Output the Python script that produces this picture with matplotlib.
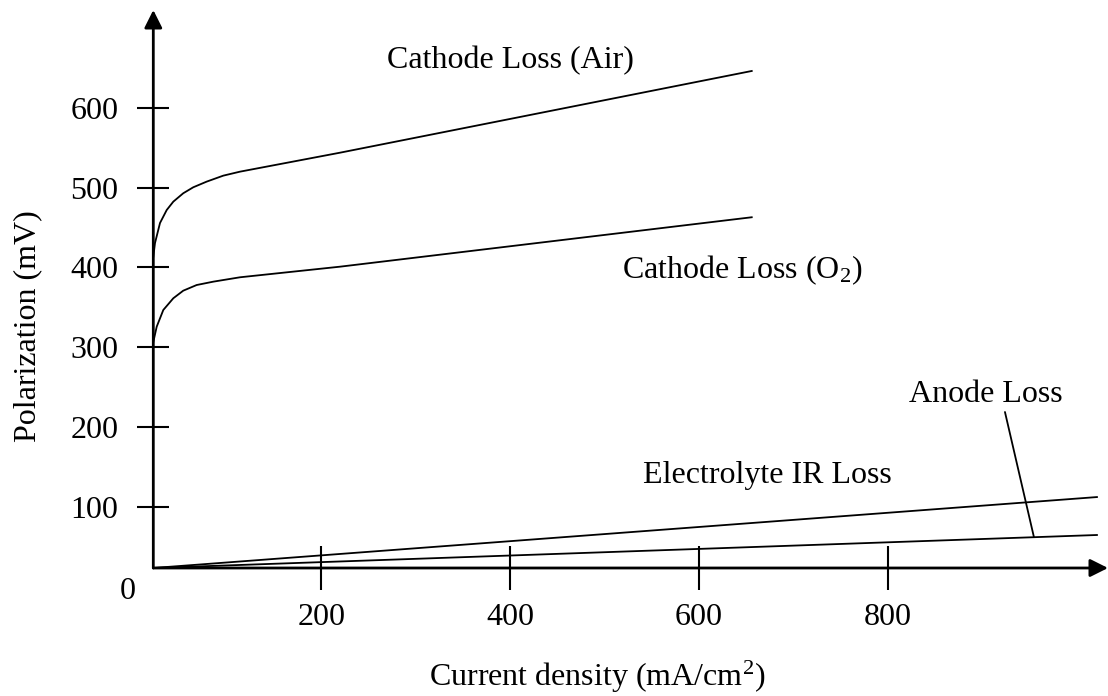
import matplotlib
matplotlib.use("Agg")
import matplotlib.pyplot as plt
import numpy as np

# values (x in mA/cm2, y in mV)
air_x = [22.2, 24.0, 29.3, 36.4, 43.4, 53.9, 64.5, 78.7, 96.3, 114.0, 219.9, 655.8]
air_y = [413.5, 430.7, 455.8, 472.1, 482.6, 493.1, 500.6, 507.7, 515.2, 520.2, 544.0, 646.5]

o2_x = [22.2, 25.8, 32.8, 43.4, 53.9, 68.1, 85.7, 114.0, 219.9, 655.8]
o2_y = [306.5, 325.7, 346.7, 361.4, 370.9, 378.0, 382.2, 387.7, 401.0, 463.0]

ir_x = [22.2, 1021.3]
ir_y = [23.0, 112.0]

anode_x = [22.2, 1021.3]
anode_y = [23.0, 64.4]

x_ticks = [200, 400, 600, 800]
y_ticks = [100, 200, 300, 400, 500, 600]

plt.rcParams['font.family'] = ['Liberation Serif', 'DejaVu Serif']
plt.rcParams['mathtext.fontset'] = 'custom'
plt.rcParams['mathtext.rm'] = 'Liberation Serif'
plt.rcParams['mathtext.it'] = 'Liberation Serif:italic'

FS = 23
W, H = 1108, 696
fig = plt.figure(figsize=(W / 100, H / 100), dpi=100)

# axes frame in pixels: origin (153.3, 568), top 10, right 1108
left, right, bottom, top = 153.3, 1108, 568, 10
ax = fig.add_axes([left / W, 1 - bottom / H, (right - left) / W, (bottom - top) / H])
ax.set_xlim(22.2, 1033)
ax.set_ylim(23.0, 723)

lw = 1.3
ax.plot(air_x, air_y, color='black', lw=lw)
ax.plot(o2_x, o2_y, color='black', lw=lw)
ax.plot(ir_x, ir_y, color='black', lw=lw)
ax.plot(anode_x, anode_y, color='black', lw=lw)

for s in ax.spines.values():
    s.set_visible(False)

arrow = dict(arrowstyle='-|>,head_length=0.6,head_width=0.3', lw=2.0, color='black',
             mutation_scale=18, shrinkA=0, shrinkB=0)
ax.annotate('', xy=(1, 0), xytext=(0, 0), xycoords='axes fraction', arrowprops=arrow)
ax.annotate('', xy=(0, 1), xytext=(0, 0), xycoords='axes fraction', arrowprops=arrow)

ax.set_xticks(x_ticks)
ax.set_yticks(y_ticks)
ax.tick_params(axis='x', direction='inout', length=31, width=1.5, pad=9.5, labelsize=FS)
ax.tick_params(axis='y', direction='inout', length=23, width=1.5, pad=13.5, labelsize=FS)

ax.annotate('0', xy=(0, 0), xycoords='axes fraction', xytext=(-18.6, -16.6),
            textcoords='offset points', ha='center', va='center', fontsize=FS)

# curve labels
def px(x, y):
    return x / W, 1 - y / H

fig.text(*px(387, 68), 'Cathode Loss (Air)', fontsize=FS, ha='left', va='baseline')
fig.text(*px(622, 278), r'Cathode Loss (O$_2$)', fontsize=FS, ha='left', va='baseline')
fig.text(*px(643, 483), 'Electrolyte IR Loss', fontsize=FS, ha='left', va='baseline')
fig.text(*px(909, 402), 'Anode Loss', fontsize=FS, ha='left', va='baseline')

# leader from the anode label to its line
lead_x = 954.6
ax.annotate('', xy=(lead_x, np.interp(lead_x, anode_x, anode_y)), xytext=(923.9, 218.7),
            arrowprops=dict(arrowstyle='-', lw=1.3, color='black', shrinkA=0, shrinkB=0))

fig.text(*px(597, 686), r'Current density (mA/cm$^2$)', fontsize=FS, ha='center', va='baseline')
fig.text(*px(35, 326), 'Polarization (mV)', fontsize=FS, rotation=90,
         rotation_mode='anchor', ha='center', va='baseline')

fig.savefig('out.png', dpi=100)
